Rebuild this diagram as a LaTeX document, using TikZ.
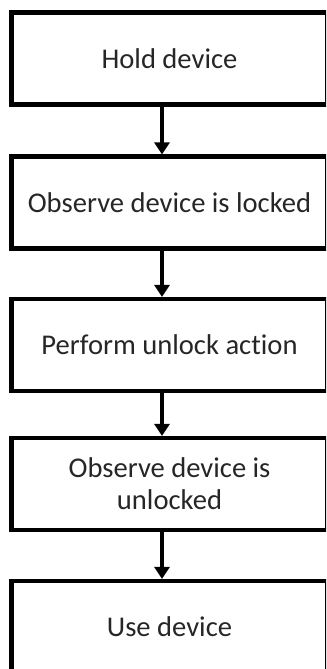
\documentclass[tikz,border=0pt]{standalone}
\usepackage{fontspec}
\setmainfont{Carlito}[Ligatures=NoCommon]
\usetikzlibrary{arrows.meta}

\begin{document}
\begin{tikzpicture}[x=0.03cm, y=-0.03cm,
    action/.style={draw, line width=0.135cm, minimum width=9.48cm, minimum height=2.75cm,
      inner sep=0pt, align=center, font=\fontsize{24.4}{27.5}\selectfont, text=black!85},
    flow/.style={-{Triangle[width=0.45cm, length=0.36cm]}, line width=0.13cm}]
      \clip (0,0) rectangle (326,669);

      \node[action] (hold) at (169.5,58.5){Hold device};
      \node[action] (locked) at (169.5,202.5){Observe device is locked};
      \node[action] (unlock) at (169.5,345){Perform unlock action};
      \node[action] (unlocked) at (169.5,484){Observe device is\\unlocked};
      \node[action] (use) at (169.5,627){Use device};

      \draw[flow] ([xshift=-0.225cm]hold.south) -- ([xshift=-0.225cm]locked.north);
      \draw[flow] ([xshift=-0.225cm]locked.south) -- ([xshift=-0.225cm]unlock.north);
      \draw[flow] ([xshift=-0.225cm]unlock.south) -- ([xshift=-0.225cm]unlocked.north);
      \draw[flow] ([xshift=-0.225cm]unlocked.south) -- ([xshift=-0.225cm]use.north);
    \end{tikzpicture}
\end{document}
